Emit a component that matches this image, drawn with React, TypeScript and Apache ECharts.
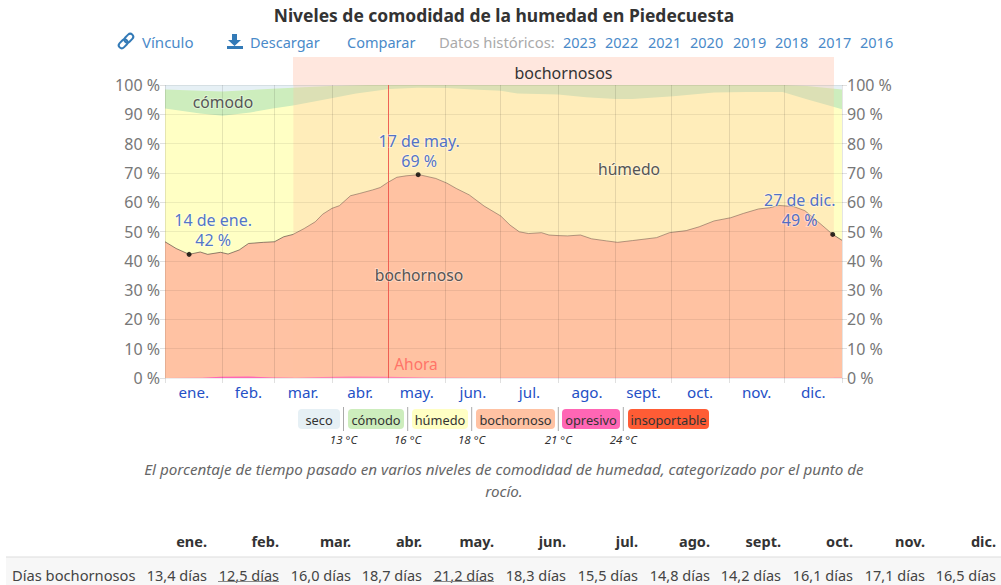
import React, { useEffect, useRef } from "react";
import * as echarts from "echarts";

const monthLabels = ["ene.", "feb.", "mar.", "abr.", "may.", "jun.", "jul.", "ago.", "sept.", "oct.", "nov.", "dic."];
const monthStarts = [0, 31, 59, 90, 120.5, 151, 181, 212, 243, 273, 304, 334, 365];
const tableDays = ["13,4 días", "12,5 días", "16,0 días", "18,7 días", "21,2 días", "18,3 días", "15,5 días", "14,8 días", "14,2 días", "16,1 días", "17,1 días", "16,5 días"];
const yearLinks = ["2023", "2022", "2021", "2020", "2019", "2018", "2017", "2016"];
const legendNames = ["seco", "cómodo", "húmedo", "bochornoso", "opresivo", "insoportable"];
const legendTemps = ["13 °C", "16 °C", "18 °C", "21 °C", "24 °C"];

// upper edge of each humidity band, percent of time, [day of year, percent]
const secoTop = [[0, 100], [365, 100]];
const comodoTop = [[0, 98.5], [31, 97.8], [58, 98.7], [69, 99.1], [89, 99.7], [110, 100], [333, 100], [346, 99.7], [365, 98.5]];
const humedoTop = [[0, 92], [19, 90.3], [31, 89.5], [46, 90.6], [58, 92], [69, 93], [89, 95.4], [103, 97.1], [121, 98.6], [136, 99.1], [152, 99], [166, 98.5], [181, 98], [190, 97.1], [212, 96.8], [227, 95.8], [243, 95.2], [252, 95.2], [274, 96.2], [296, 97.4], [314, 97.6], [333, 97.6], [346, 95.1], [357, 93.2], [365, 91.7]];
const bochornosoTop = [[0, 46.5], [6, 44.2], [13, 42.2], [19, 43], [23, 42.2], [30, 42.9], [34, 42.3], [40, 43.7], [45, 45.9], [53, 46.3], [59, 46.5], [64, 48.2], [69, 49], [75, 51], [81, 53.3], [85, 55.9], [90, 57.9], [94, 58.8], [100, 62.2], [105, 63], [112, 64.2], [116, 65], [120, 66.7], [125, 68.5], [130, 69], [137, 69.4], [146, 68.1], [152, 66.5], [157, 64.7], [164, 62.5], [172, 58.7], [181, 55.3], [186, 52.2], [191, 49.9], [196, 49.3], [203, 49.6], [207, 48.8], [212, 48.6], [217, 48.5], [224, 48.8], [230, 47.5], [238, 46.8], [244, 46.3], [252, 46.9], [265, 47.9], [272, 49.6], [281, 50.3], [288, 51.6], [296, 53.6], [305, 54.7], [312, 56.2], [320, 57.7], [326, 58.1], [331, 58.9], [339, 58.5], [345, 57.1], [351, 53.9], [360, 49], [365, 47]];
const opresivoTop = [[0, 0], [20, 0.1], [30, 0.4], [45, 0.5], [58, 0.2], [70, 0.1], [85, 0.3], [100, 0.5], [120, 0.4], [140, 0.2], [165, 0.1], [365, 0.1]];
const keyPoints = [
  { day: 13, value: 42.2, date: "14 de ene.", pct: "42 %", offset: [24, 3] },
  { day: 136.5, value: 69.4, date: "17 de may.", pct: "69 %", offset: [1, 4] },
  { day: 360, value: 49, date: "27 de dic.", pct: "49 %", offset: [-33, 3] },
];
const bochornososBand = [[69.2, 100], [360.6, 100]];
const nowDay = 120.5;

const FONT = "'Noto Sans', sans-serif";
const BLUE = "#2450c6";
const LINK = "#4a8ac9";

const LEGEND_COLORS = ["#e6f0f5", "#cdedbd", "#ffffc4", "#ffc2a3", "#ff66b5", "#ff5c35"];
const LEGEND_BOXES = [[298, 340], [348, 404], [412, 468], [476, 555], [562, 620], [628, 709]];
const SEP_X = [343.5, 407.7, 471.7, 558.3, 623.3];
const COL_RIGHT = [207, 279, 351, 422, 494, 566, 638, 710, 781, 853, 925, 996];
const YEAR_X = [563, 605, 648, 690, 733, 775, 818, 860];

function text(x: number, y: number, t: string, o: any = {}, z = 20) {
  return {
    type: "text",
    x,
    y,
    z,
    silent: true,
    style: { text: t, fontFamily: FONT, fontSize: 15, fill: "#444", textAlign: "left", textVerticalAlign: "middle", ...o },
  };
}

function area(name: string, data: number[][], color: string, z = 2) {
  return {
    type: "line",
    name,
    data,
    z,
    symbol: "none",
    smooth: false,
    lineStyle: { width: 0 },
    areaStyle: { color, opacity: 1 },
    silent: true,
  };
}

export default function App() {
  const ref = useRef<HTMLDivElement>(null);
  useEffect(() => {
    document.body.style.margin = "0";
    const chart = echarts.init(ref.current!, undefined, { renderer: "svg" });

    const graphics: any[] = [];
    // title and link row
    graphics.push(text(504, 15, "Niveles de comodidad de la humedad en Piedecuesta", { fontSize: 17.45, fontWeight: "bold", fill: "#333", textAlign: "center" }));
    graphics.push(text(142, 42, "Vínculo", { fontSize: 15, fill: LINK }));
    graphics.push(text(250, 42, "Descargar", { fontSize: 14.5, fill: LINK }));
    graphics.push(text(347, 42, "Comparar", { fontSize: 14.5, fill: LINK }));
    graphics.push(text(439, 42, "Datos históricos:", { fontSize: 14.8, fill: "#aaa" }));
    yearLinks.forEach((y, i) => graphics.push(text(YEAR_X[i], 42, y, { fontSize: 14.5, fill: LINK })));
    // link icon
    [[-2.8, 2.8], [2.8, -2.8]].forEach(([dx, dy]) =>
      graphics.push({
        type: "rect", x: 126 + dx, y: 41 + dy, rotation: Math.PI / 4, z: 20, silent: true,
        shape: { x: -5, y: -3, width: 10, height: 6, r: 3 },
        style: { fill: "none", stroke: "#337ab7", lineWidth: 2 },
      }));
    // download icon
    graphics.push({ type: "polygon", z: 20, silent: true, shape: { points: [[232, 34], [237, 34], [237, 40], [241, 40], [234.5, 46], [228, 40], [232, 40]] }, style: { fill: "#337ab7" } });
    graphics.push({ type: "rect", z: 20, silent: true, shape: { x: 227, y: 46, width: 16, height: 3 }, style: { fill: "#337ab7" } });
    // header band over the plot
    graphics.push({ type: "rect", z: 1, silent: true, shape: { x: 293, y: 57, width: 541, height: 28 }, style: { fill: "#ffe7de" } });
    graphics.push(text(563.5, 73, "bochornosos", { fontSize: 16, fill: "#333", textAlign: "center" }));
    // band names
    const halo = { stroke: "rgba(255,255,255,0.35)", lineWidth: 2, fill: "#555", textAlign: "center", fontSize: 15.7 };
    graphics.push(text(223, 102, "cómodo", halo));
    graphics.push(text(629, 169, "húmedo", halo));
    graphics.push(text(419, 275, "bochornoso", halo));
    graphics.push(text(416, 364, "Ahora", { fontSize: 15.5, fill: "#ff7468", textAlign: "center" }));
    // legend
    legendNames.forEach((n, i) => {
      const [a, b] = LEGEND_BOXES[i];
      graphics.push({ type: "rect", z: 20, silent: true, shape: { x: a, y: 409, width: b - a, height: 20, r: 4 }, style: { fill: LEGEND_COLORS[i] } });
      graphics.push(text((a + b) / 2, 420, n, { fontSize: 12.8, fill: "#333", textAlign: "center" }, 21));
    });
    legendTemps.forEach((t, i) => {
      graphics.push({ type: "line", z: 20, silent: true, shape: { x1: SEP_X[i], y1: 407, x2: SEP_X[i], y2: 431 }, style: { stroke: "#aaa", lineWidth: 1 } });
      graphics.push(text(SEP_X[i], 439, t, { fontSize: 11.5, fontStyle: "italic", fill: "#333", textAlign: "center" }));
    });
    // caption
    const cap = { fontSize: 15.2, fontStyle: "italic", fill: "#666", textAlign: "center" };
    graphics.push(text(504, 469, "El porcentaje de tiempo pasado en varios niveles de comodidad de humedad, categorizado por el punto de", cap));
    graphics.push(text(504, 491, "rocío.", cap));
    // table
    graphics.push({ type: "rect", z: 1, silent: true, shape: { x: 6, y: 557, width: 995, height: 28 }, style: { fill: "#f7f7f7" } });
    graphics.push({ type: "line", z: 2, silent: true, shape: { x1: 6, y1: 557, x2: 1001, y2: 557 }, style: { stroke: "#ddd", lineWidth: 1 } });
    graphics.push(text(12, 575, "Días bochornosos", { fontSize: 14.7 }));
    monthLabels.forEach((m, i) => {
      graphics.push(text(COL_RIGHT[i], 540.5, m, { fontSize: 14.5, fontWeight: "bold", fill: "#333", textAlign: "right" }));
      graphics.push(text(COL_RIGHT[i], 575, tableDays[i], { fontSize: 14.5, textAlign: "right" }));
    });
    [1, 4].forEach((i) =>
      graphics.push({ type: "line", z: 20, silent: true, shape: { x1: COL_RIGHT[i] - 61, y1: 581.5, x2: COL_RIGHT[i], y2: 581.5 }, style: { stroke: "#888", lineWidth: 1 } }));

    const mids = monthStarts.slice(0, 12).map((s, i) => (s + monthStarts[i + 1]) / 2);
    const yAxisBase = {
      type: "value",
      min: 0,
      max: 100,
      interval: 10,
      z: 5,
      axisLine: { show: false },
      axisTick: { show: true, length: 5, lineStyle: { color: "rgba(0,0,0,0.12)" } },
      axisLabel: { formatter: "{value} %", color: "#777", fontFamily: FONT, fontSize: 16, margin: 5 },
      splitLine: { show: true, lineStyle: { color: "rgba(0,0,0,0.07)", width: 1 } },
    };

    chart.setOption({
      animation: false,
      graphic: graphics,
      grid: { left: 165, right: 159, top: 85, height: 293, containLabel: false },
      xAxis: {
        type: "value",
        min: 0,
        max: 365,
        z: 5,
        axisLine: { show: false },
        axisTick: { show: true, length: 5, customValues: monthStarts, lineStyle: { color: "rgba(0,0,0,0.12)" } },
        axisLabel: {
          customValues: mids,
          formatter: (v: number) => monthLabels[mids.indexOf(v)] ?? "",
          color: BLUE,
          fontFamily: FONT,
          fontSize: 15.2,
          margin: 6,
        },
        splitLine: { show: true, lineStyle: { color: "rgba(0,0,0,0.1)", width: 1 } },
      },
      yAxis: [
        { ...yAxisBase, position: "left" },
        { ...yAxisBase, position: "right", splitLine: { show: false } },
      ],
      series: [
        area("seco", secoTop, "#e6f0f5"),
        area("cómodo", comodoTop, "#cdedbd"),
        area("húmedo", humedoTop, "#ffffc4"),
        {
          ...area("bochornoso", bochornosoTop, "#ffc2a3"),
          lineStyle: { width: 1, color: "rgba(70,60,55,0.6)" },
        },
        area("opresivo", opresivoTop, "#ff66b5"),
        {
          type: "line",
          name: "bochornosos",
          data: bochornososBand,
          z: 3,
          symbol: "none",
          lineStyle: { width: 0 },
          areaStyle: { color: "#ffc2a3", opacity: 0.3 },
          silent: true,
          markLine: {
            silent: true,
            symbol: "none",
            z: 6,
            label: { show: false },
            lineStyle: { color: "#f0564c", width: 1, type: "solid", opacity: 0.9 },
            data: [{ xAxis: nowDay }],
          },
        },
        {
          type: "scatter",
          name: "extremos",
          z: 6,
          symbol: "circle",
          symbolSize: 5,
          itemStyle: { color: "#000" },
          silent: true,
          data: keyPoints.map((p) => ({
            value: [p.day, p.value],
            label: {
              show: true,
              position: "top",
              offset: p.offset,
              formatter: p.date + "\n" + p.pct,
              color: BLUE,
              fontFamily: FONT,
              fontSize: 16,
              lineHeight: 20,
              align: "center",
              textBorderColor: "rgba(255,255,255,0.45)",
              textBorderWidth: 2,
            },
          })),
        },
      ],
    });
    return () => chart.dispose();
  }, []);
  return <div ref={ref} style={{ width: 1001, height: 585 }} />;
}
